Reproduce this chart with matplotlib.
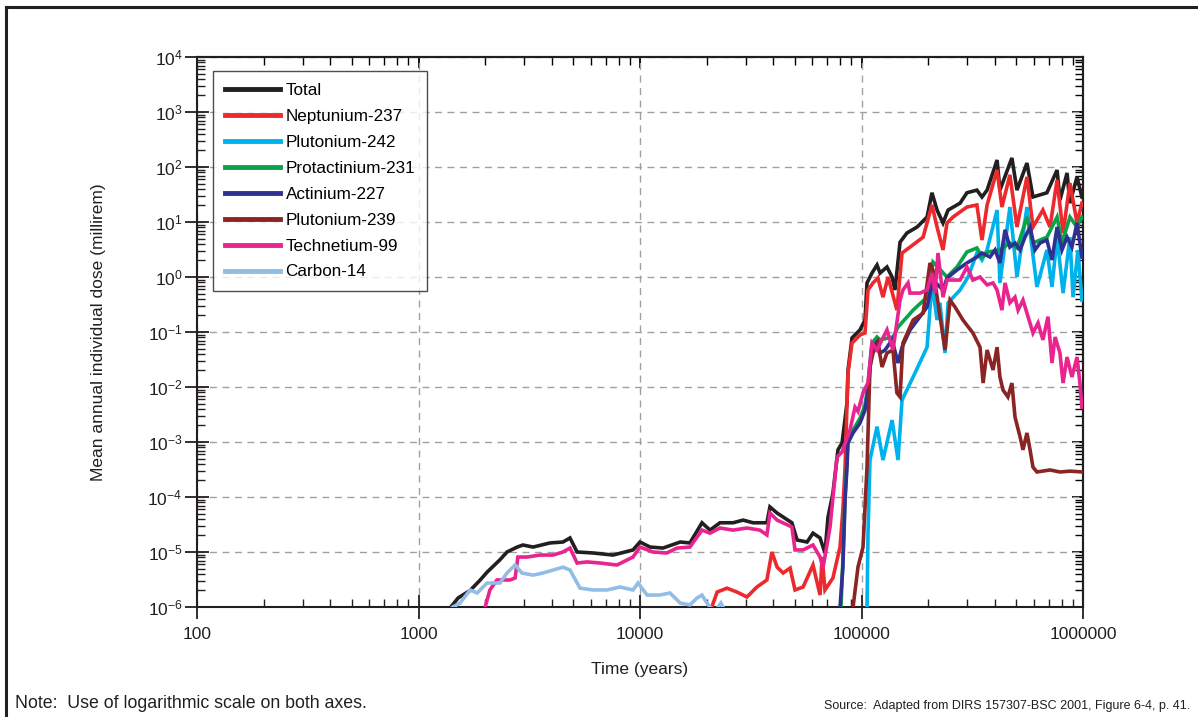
import matplotlib
matplotlib.use('Agg')
import matplotlib.pyplot as plt
import matplotlib.ticker as mticker
from matplotlib.lines import Line2D
import numpy as np

plt.rcParams['font.family'] = ['Liberation Sans', 'DejaVu Sans']
plt.rcParams['mathtext.default'] = 'regular'

# dose histories, years vs millirem
total_t = [1400, 1510, 1710, 1900, 2040, 2330, 2510, 2790, 2960, 3290, 3920, 4490, 4830, 5200, 6140,
           7550, 9300, 10000, 11100, 12700, 15200, 16800, 19050, 20700, 22960, 26300, 29200, 32400,
           37400, 38600, 41600, 48500, 51200, 56800, 60400, 65000, 68400, 70600, 74300, 78300, 81700,
           86000, 86900, 90600, 98400, 103700, 105900, 111500, 117500, 121300, 130300, 137400, 141600,
           149300, 160300, 178200, 197700, 208000, 219300, 233300, 246000, 278600, 299200, 331900,
           349900, 369000, 409300, 421700, 477500, 503500, 558500, 594300, 687100, 763800, 787000,
           847200, 873000, 939700, 988500]
total_d = [1.0e-6, 1.46e-6, 2.0e-6, 3.1e-6, 4.3e-6, 7.2e-6, 1.0e-5, 1.23e-5, 1.34e-5, 1.23e-5, 1.46e-5,
           1.52e-5, 1.8e-5, 1.0e-5, 9.6e-6, 8.8e-6, 1.09e-5, 1.52e-5, 1.23e-5, 1.18e-5, 1.52e-5, 1.46e-5,
           3.4e-5, 2.5e-5, 3.4e-5, 3.4e-5, 3.8e-5, 3.4e-5, 3.4e-5, 6.6e-5, 5.1e-5, 3.4e-5, 1.65e-5,
           1.52e-5, 2.2e-5, 1.8e-5, 9.6e-6, 4.3e-5, 1.18e-4, 7.2e-4, 9.6e-4, 5.1e-3, 2.0e-2, 7.8e-2,
           0.109, 0.165, 0.78, 1.18, 1.65, 1.18, 1.52, 1.0, 0.58, 4.3, 6.3, 8.1, 12.3, 34, 16.5, 9.6,
           16.5, 22, 34, 38, 28.5, 38, 134, 38, 146, 38, 118, 28.5, 34, 88, 25, 78, 22, 66, 28.5]

np237_t = [21100, 22300, 24700, 27400, 30400, 33700, 37400, 39400, 41600, 44300, 47600, 50100, 54500,
           60400, 65000, 66400, 68400, 74300, 80000, 82400, 84300, 86900, 90600, 98400, 103700, 107000,
           112700, 118600, 125000, 131800, 144500, 152400, 165600, 189700, 208000, 219300, 233300,
           243200, 258800, 299200, 331900, 349900, 369000, 409300, 430500, 467700, 503500, 558500,
           594300, 659200, 709600, 763800, 812800, 873000, 939700, 988500]
np237_d = [1.0e-6, 1.87e-6, 2.2e-6, 1.87e-6, 1.52e-6, 2.31e-6, 3.1e-6, 1.0e-5, 5.3e-6, 4.15e-6, 5.1e-6,
           2.04e-6, 2.31e-6, 5.8e-6, 1.65e-6, 8.1e-6, 2.04e-6, 3.37e-6, 1.23e-5, 5.8e-5, 3.5e-4, 1.8e-2,
           6.3e-2, 8.8e-2, 9.6e-2, 0.58, 0.78, 0.96, 0.43, 1.0, 0.25, 2.73, 3.5, 5.3, 20.4, 8.1, 3.1, 9.6,
           12.3, 18.7, 20.4, 4.7, 20.4, 88, 18.7, 72, 8.1, 66, 8.1, 16.5, 8.1, 58, 6.3, 51, 9.6, 22]

pu242_t = [105900, 107000, 109200, 117500, 125000, 137400, 146200, 152400, 171000, 197700, 208000,
           219300, 226000, 238300, 246000, 278600, 302700, 331900, 349900, 369000, 409300, 421700,
           467700, 503500, 558500, 619400, 687100, 724400, 763800, 812800, 873000, 901500, 948400,
           988500]
pu242_d = [1.0e-6, 2.2e-5, 4.7e-4, 1.9e-3, 4.7e-4, 2.5e-3, 4.7e-4, 5.8e-3, 1.52e-2, 5.3e-2, 0.78, 0.165,
           0.34, 4.15e-2, 0.34, 0.58, 1.0, 2.73, 2.04, 3.1, 16.5, 0.78, 18.7, 1.0, 18.7, 0.66, 3.1, 0.66,
           5.3, 0.51, 5.3, 0.43, 3.1, 0.38]

pa231_t = [80800, 82400, 84300, 86900, 91600, 98400, 103700, 107000, 111500, 117500, 121300, 138700,
           146200, 171000, 197700, 210300, 243200, 269800, 299200, 331900, 349900, 372400, 421700,
           467700, 503500, 558500, 594300, 687100, 763800, 803500, 873000, 939700, 988500]
pa231_d = [1.0e-6, 7.2e-6, 1.05e-4, 1.1e-3, 1.65e-3, 2.7e-3, 4.6e-3, 1.1e-2, 6.3e-2, 8.1e-2, 7.2e-2,
           8.1e-2, 0.123, 0.25, 0.43, 1.87, 1.0, 1.52, 2.85, 3.37, 2.31, 2.85, 3.1, 4.15, 3.37, 12.3,
           4.15, 5.3, 12.3, 4.15, 12.3, 8.1, 12.3]

ac227_t = [80000, 82400, 84300, 86000, 86900, 91600, 98400, 103700, 107000, 111500, 117500, 121300,
           127700, 137400, 146200, 152400, 165600, 183700, 197700, 210300, 233300, 243200, 269800,
           299200, 331900, 349900, 380200, 400900, 421700, 444600, 467700, 493200, 520000, 547000,
           576800, 606700, 639700, 687100, 724400, 763800, 803500, 847200, 891300, 939700, 988500]
ac227_d = [1.0e-6, 5.3e-6, 8.8e-5, 3.5e-4, 9.6e-4, 1.46e-3, 2.2e-3, 3.8e-3, 8.8e-3, 5.3e-2, 6.6e-2,
           4.15e-2, 4.7e-2, 7.2e-2, 2.73e-2, 5.3e-2, 0.109, 0.19, 0.285, 0.88, 0.58, 0.96, 1.34, 1.8,
           2.31, 2.73, 2.31, 3.1, 1.8, 7.2, 3.5, 4.15, 3.1, 5.3, 8.1, 3.1, 4.15, 4.7, 2.04, 8.1, 3.1,
           5.3, 3.5, 9.6, 2.31]

pu239_t = [91600, 96400, 101600, 105900, 109200, 112700, 118600, 123800, 130300, 138700, 144500, 149300,
           153800, 171000, 189700, 203800, 210300, 221500, 238300, 251200, 264300, 287100, 318400,
           342800, 354000, 369000, 392600, 409300, 421700, 435500, 458100, 477500, 493200, 520000,
           535800, 558500, 576800, 594300, 619400, 709600, 787000, 873000, 1000000]
pu239_d = [1.0e-6, 5.3e-6, 1.23e-5, 3.5e-4, 2.31e-2, 4.15e-2, 6.3e-2, 2.31e-2, 4.15e-2, 4.7e-2, 7.8e-3,
           6.6e-3, 6.3e-2, 0.165, 0.22, 1.8, 1.34, 0.34, 4.7e-2, 0.38, 0.285, 0.165, 0.096, 5.3e-2,
           1.18e-2, 4.7e-2, 2.04e-2, 5.3e-2, 1.52e-2, 8.8e-3, 6.6e-3, 1.18e-2, 2.85e-3, 1.23e-3, 7.2e-4,
           1.46e-3, 7.2e-4, 3.5e-4, 2.85e-4, 3.1e-4, 2.85e-4, 2.95e-4, 2.85e-4]

tc99_t = [2000, 2100, 2260, 2590, 2730, 2810, 3090, 3540, 4050, 4490, 4830, 5200, 5770, 6600, 7870, 9300,
          10000, 11450, 13200, 14700, 16800, 19050, 20700, 22960, 26300, 30400, 34800, 37400, 38600,
          41600, 48500, 50100, 54500, 60400, 65000, 67000, 72100, 77500, 81700, 88700, 93500, 96400,
          101600, 107000, 111500, 117500, 125000, 130300, 138700, 149300, 153800, 162200, 165600,
          183700, 197700, 208000, 214800, 221500, 233300, 243200, 278600, 299200, 318400, 342800,
          369000, 392600, 409300, 430500, 444600, 467700, 493200, 509300, 535800, 564900, 594300,
          626600, 659200, 695000, 724400, 748200, 787000, 812800, 847200, 891300, 939700, 968300,
          988500]
tc99_d = [1.0e-6, 2.04e-6, 3.1e-6, 3.1e-6, 3.37e-6, 8.1e-6, 8.1e-6, 8.8e-6, 8.8e-6, 1.0e-5, 1.18e-5,
          6.3e-6, 6.6e-6, 6.3e-6, 5.8e-6, 8.1e-6, 1.23e-5, 1.0e-5, 9.6e-6, 1.18e-5, 1.23e-5, 2.5e-5,
          2.2e-5, 2.73e-5, 2.5e-5, 2.73e-5, 2.5e-5, 2.04e-5, 5.1e-5, 3.8e-5, 2.85e-5, 1.09e-5, 1.09e-5,
          1.34e-5, 8.1e-6, 5.1e-6, 2.85e-5, 5.3e-4, 6.6e-4, 1.65e-3, 4.3e-3, 3.6e-3, 7.8e-3, 1.2e-2,
          6.3e-2, 4.7e-2, 7.8e-2, 0.109, 4.7e-2, 0.38, 0.58, 0.78, 0.51, 0.51, 0.58, 1.18, 0.51, 2.73,
          0.43, 0.88, 0.88, 1.52, 0.88, 1.0, 0.72, 0.78, 0.58, 0.25, 0.78, 0.34, 0.43, 0.25, 0.38, 0.19,
          0.096, 0.146, 0.072, 0.19, 0.0273, 0.081, 0.0415, 0.0118, 0.035, 0.0152, 0.035, 0.0118,
          0.0043]

c14_t = [1430, 1540, 1710, 1840, 2040, 2330, 2510, 2730, 2930, 3290, 3650, 4050, 4490, 4830, 5360, 6140,
         7100, 8130, 9300, 9800, 10760, 12300, 13650, 15200, 16800, 18100, 19050, 20050, 20700, 21500,
         22500, 23200, 23700]
c14_d = [1.0e-6, 1.18e-6, 2.04e-6, 1.8e-6, 2.73e-6, 2.73e-6, 4.15e-6, 5.8e-6, 4.15e-6, 3.8e-6, 4.15e-6,
         4.7e-6, 5.3e-6, 4.7e-6, 2.2e-6, 2.04e-6, 2.04e-6, 2.31e-6, 2.04e-6, 2.73e-6, 1.65e-6, 1.65e-6,
         1.8e-6, 1.18e-6, 1.09e-6, 1.46e-6, 1.65e-6, 1.18e-6, 1.0e-6, 7e-7, 1.0e-6, 1.18e-6, 1.0e-6]

series = [
    ('Total', total_t, total_d, '#231f20'),
    ('Neptunium-237', np237_t, np237_d, '#ec2a2e'),
    ('Plutonium-242', pu242_t, pu242_d, '#00b2ec'),
    ('Protactinium-231', pa231_t, pa231_d, '#0aa24b'),
    ('Actinium-227', ac227_t, ac227_d, '#2e3192'),
    ('Plutonium-239', pu239_t, pu239_d, '#8a2523'),
    ('Technetium-99', tc99_t, tc99_d, '#e9238f'),
    ('Carbon-14', c14_t, c14_d, '#92bde6'),
]
# order the curves are stacked in
zorders = {'Total': 3, 'Neptunium-237': 4, 'Plutonium-242': 5, 'Protactinium-231': 6,
           'Actinium-227': 7, 'Plutonium-239': 8, 'Technetium-99': 9, 'Carbon-14': 10}

x_ticks = [100, 1000, 10000, 100000, 1000000]
x_labels = ['100', '1000', '10000', '100000', '1000000']
y_exps = list(range(-6, 5))

fig = plt.figure(figsize=(11.98, 7.17), dpi=100)
ax = fig.add_axes([197/1198, 1 - 607/717, (1083-197)/1198, (607-57)/717])

for name, t, d, c in series:
    ax.plot(t, d, color=c, lw=2.6, label=name, zorder=zorders[name], solid_joinstyle='miter')

ax.set_xscale('log')
ax.set_yscale('log')
ax.set_xlim(100, 1000000)
ax.set_ylim(1e-6, 1e4)

ax.xaxis.set_major_locator(mticker.FixedLocator(x_ticks))
ax.xaxis.set_major_formatter(mticker.FixedFormatter(x_labels))
ax.xaxis.set_minor_locator(mticker.LogLocator(base=10, subs=np.arange(2, 10), numticks=20))
ax.xaxis.set_minor_formatter(mticker.NullFormatter())
ax.yaxis.set_major_locator(mticker.FixedLocator([10.0**e for e in y_exps]))
ax.yaxis.set_major_formatter(mticker.FixedFormatter(['$10^{%d}$' % e for e in y_exps]))
ax.yaxis.set_minor_locator(mticker.LogLocator(base=10, subs=np.arange(2, 10), numticks=20))
ax.yaxis.set_minor_formatter(mticker.NullFormatter())

ax.tick_params(which='major', direction='inout', length=17, width=1.3, labelsize=12.5,
               colors='#231f20')
ax.tick_params(axis='x', which='major', pad=6)
ax.tick_params(axis='y', which='major', pad=2)
ax.tick_params(which='minor', direction='in', length=6, width=1.0, colors='#231f20')

# ticks on the top and right edges point inward only
sec_x = ax.secondary_xaxis('top')
sec_x.xaxis.set_minor_locator(mticker.LogLocator(base=10, subs=np.arange(2, 10), numticks=20))
sec_x.xaxis.set_major_locator(mticker.FixedLocator(x_ticks))
sec_x.tick_params(which='major', direction='in', length=8, width=1.3, labeltop=False)
sec_x.tick_params(which='minor', direction='in', length=6, width=1.0)
sec_x.xaxis.set_minor_formatter(mticker.NullFormatter())
sec_y = ax.secondary_yaxis('right')
sec_y.yaxis.set_minor_locator(mticker.LogLocator(base=10, subs=np.arange(2, 10), numticks=20))
sec_y.yaxis.set_major_locator(mticker.FixedLocator([10.0**e for e in y_exps]))
sec_y.tick_params(which='major', direction='in', length=8, width=1.3, labelright=False)
sec_y.tick_params(which='minor', direction='in', length=6, width=1.0)
sec_y.yaxis.set_minor_formatter(mticker.NullFormatter())
for s in list(sec_x.spines.values()) + list(sec_y.spines.values()):
    s.set_linewidth(1.5)
    s.set_color('#231f20')

for s in ax.spines.values():
    s.set_linewidth(1.5)
    s.set_color('#231f20')

ax.grid(True, which='major', color='#a0a0a0', linestyle=(0, (5, 4)), linewidth=1.0, zorder=0)
ax.set_axisbelow(True)

ax.set_xlabel('Time (years)', fontsize=12.5, color='#231f20', labelpad=14)
ax.set_ylabel('Mean annual individual dose (millirem)', fontsize=12.5, color='#231f20', labelpad=30)

leg = ax.legend(loc='upper left', bbox_to_anchor=(16/886, 1 - 14/550), fontsize=12.3, frameon=True,
                fancybox=False, edgecolor='#231f20', handlelength=3.2, handletextpad=0.35,
                labelspacing=0.64, borderpad=0.7, borderaxespad=0)
leg.get_frame().set_linewidth(1.0)
for h in leg.get_lines():
    h.set_linewidth(3.5)
leg.set_zorder(20)

# outer frame around the whole figure
fig.add_artist(Line2D([6/1198, 6/1198], [-0.05, 1 - 7/717], color='#231f20', lw=2.2))
fig.add_artist(Line2D([6/1198, 1.05], [1 - 7/717, 1 - 7/717], color='#231f20', lw=2.2))

fig.text(15/1198, 1 - 704/717, 'Note:  Use of logarithmic scale on both axes.', fontsize=12.8,
         color='#231f20', va='center', ha='left')
fig.text(1190/1198, 1 - 706/717, 'Source:  Adapted from DIRS 157307-BSC 2001, Figure 6-4, p. 41.',
         fontsize=9, color='#231f20', va='center', ha='right')

fig.savefig('out.png', dpi=100)
